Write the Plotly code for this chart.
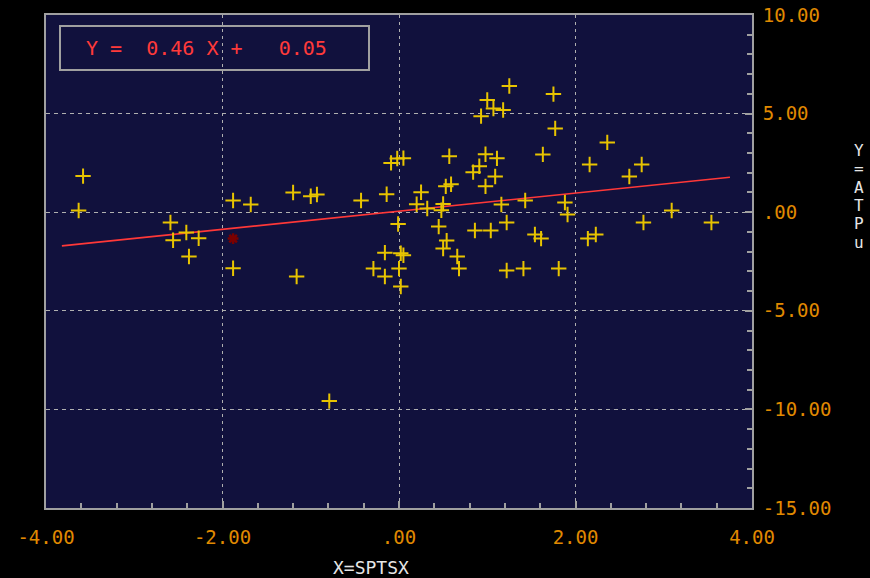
import plotly.graph_objects as go

# ---- data ----
x_vals = [-3.58, -3.63, -2.59, -2.41, -2.56, -2.27, -2.38, -1.88, -1.88, -1.68,
          -1.20, -1.16, -1.00, -0.93, -0.43, -0.14, -0.09, -0.02, 0.05, -0.01,
          -0.16, -0.29, -0.16, 0.00, 0.02, 0.02, 0.05, 1.25, 1.75, 1.00,
          1.07, 1.18, 0.93, 1.77, 0.57, 0.98, 1.11, 1.63, 0.91, 0.84,
          1.09, 0.98, 0.53, 0.59, 0.25, 0.20, 0.32, 0.50, 0.48, 1.16,
          1.43, 1.88, 1.91, 0.45, 0.86, 1.04, 1.22, 1.54, 1.61, 0.54,
          0.50, 0.66, 0.68, 1.22, 1.41, 1.81, 2.36, 2.16, 2.75, 2.61,
          3.09, 2.77, 3.54, 2.14, 2.23, -0.79]
y_vals = [1.83, 0.09, -0.52, -1.03, -1.42, -1.32, -2.25, 0.59, -2.84, 0.39,
          1.00, -3.26, 0.81, 0.90, 0.59, 0.91, 2.50, 2.72, 2.74, -0.60,
          -2.05, -2.86, -3.26, -2.86, -3.77, -2.08, -2.18, 6.40, 5.99, 5.69,
          5.26, 5.18, 4.87, 4.25, 2.84, 2.94, 2.73, 2.93, 2.33, 2.03,
          1.81, 1.31, 1.31, 1.42, 1.01, 0.40, 0.19, 0.42, 0.10, 0.39,
          0.59, 0.49, -0.12, -0.73, -0.93, -0.93, -0.52, -1.13, -1.34, -1.44,
          -1.84, -2.25, -2.86, -2.96, -2.86, -2.86, 3.54, 2.42, 2.42, 1.81,
          0.09, -0.52, -0.52, -1.34, -1.13, -9.58]
last_x = [-1.88]
last_y = [-1.34]

slope = 0.46
intercept = 0.05
line_x = [-3.82, 3.75]
line_y = [slope * v + intercept for v in line_x]

x_tickvals = [-4, -2, 0, 2, 4]
x_ticktext = ["-4.00", "-2.00", ".00", "2.00", "4.00"]
y_tickvals = [10, 5, 0, -5, -10, -15]
y_ticktext = ["10.00", "5.00", ".00", "-5.00", "-10.00", "-15.00"]

x_title = "X=SPTSX"
y_title_letters = list("Y=ATPu")
eq_text = "Y =  %.2f X +   %.2f" % (slope, intercept)

# ---- style ----
FONT = "DejaVu Sans Mono"
ORANGE = "#e08a00"
GRAY = "#a0a0a0"
GRID = "#b0b0b0"
YELLOW = "#e8c400"
W, H = 870, 578
L, R, T, B = 46, 118, 15, 70
pw, ph = W - L - R, H - T - B

def px_x(p):
    return (p - L) / pw

def px_y(p):
    return (H - B - p) / ph

fig = go.Figure()

fig.add_trace(go.Scatter(
    x=line_x, y=line_y, mode="lines",
    line=dict(color="#ff3838", width=1.6), hoverinfo="skip", showlegend=False))

fig.add_trace(go.Scatter(
    x=x_vals, y=y_vals, mode="markers",
    marker=dict(symbol="cross-thin-open", size=11, color=YELLOW,
                line=dict(color=YELLOW, width=2)),
    showlegend=False))

fig.add_trace(go.Scatter(
    x=last_x, y=last_y, mode="markers",
    marker=dict(symbol="asterisk-open", size=9, color="#7a0000",
                line=dict(color="#7a0000", width=2.5)),
    showlegend=False))

fig.update_layout(
    width=W, height=H,
    paper_bgcolor="black", plot_bgcolor="#11113d",
    margin=dict(l=L, r=R, t=T, b=B, autoexpand=False),
    font=dict(family=FONT, size=19, color=ORANGE),
    xaxis=dict(
        range=[-4, 4], tickmode="array", tickvals=x_tickvals, ticktext=x_ticktext,
        showgrid=True, gridcolor=GRID, griddash="3px,4px", gridwidth=1,
        showline=True, linecolor=GRAY, linewidth=2, mirror=True,
        ticks="inside", ticklen=7, tickcolor=GRAY, tickwidth=1.5,
        minor=dict(tick0=-4, dtick=0.4, ticks="inside", ticklen=5,
                   tickcolor=GRAY, tickwidth=1.5, showgrid=False),
        ticklabelstandoff=11, zeroline=False, automargin=False,
        tickfont=dict(family=FONT, size=19, color=ORANGE)),
    yaxis=dict(
        range=[-15, 10], side="right", tickmode="array",
        tickvals=y_tickvals, ticktext=y_ticktext,
        showgrid=True, gridcolor=GRID, griddash="4px,4px", gridwidth=1,
        showline=True, linecolor=GRAY, linewidth=2, mirror=True,
        ticks="inside", ticklen=7, tickcolor=GRAY, tickwidth=1.5,
        minor=dict(tick0=-15, dtick=1, ticks="inside", ticklen=5,
                   tickcolor=GRAY, tickwidth=1.5, showgrid=False),
        ticklabelstandoff=5, zeroline=False, automargin=False,
        tickfont=dict(family=FONT, size=19, color=ORANGE)),
)

# equation box
fig.add_shape(type="rect", xref="paper", yref="paper",
              x0=px_x(60), x1=px_x(369), y0=px_y(70), y1=px_y(26),
              line=dict(color=GRAY, width=2), fillcolor="rgba(0,0,0,0)")
fig.add_annotation(xref="paper", yref="paper", x=px_x(206.5), y=px_y(48),
                   text=eq_text, showarrow=False,
                   font=dict(family=FONT, size=20, color="#ff3a3a"),
                   xanchor="center", yanchor="middle")

# axis titles
fig.add_annotation(xref="paper", yref="paper", x=px_x(371), y=px_y(567),
                   text=x_title, showarrow=False,
                   font=dict(family=FONT, size=18, color="#e6e6e6"),
                   xanchor="center", yanchor="middle")
for i, ch in enumerate(y_title_letters):
    fig.add_annotation(xref="paper", yref="paper", x=px_x(859),
                       y=px_y(150 + i * 18.5), text=ch, showarrow=False,
                       font=dict(family=FONT, size=16, color="#e6e6e6"),
                       xanchor="center", yanchor="middle")

fig.write_html("out.html", config={"displayModeBar": False},
               post_script="document.body.style.margin='0';document.body.style.background='black';")
